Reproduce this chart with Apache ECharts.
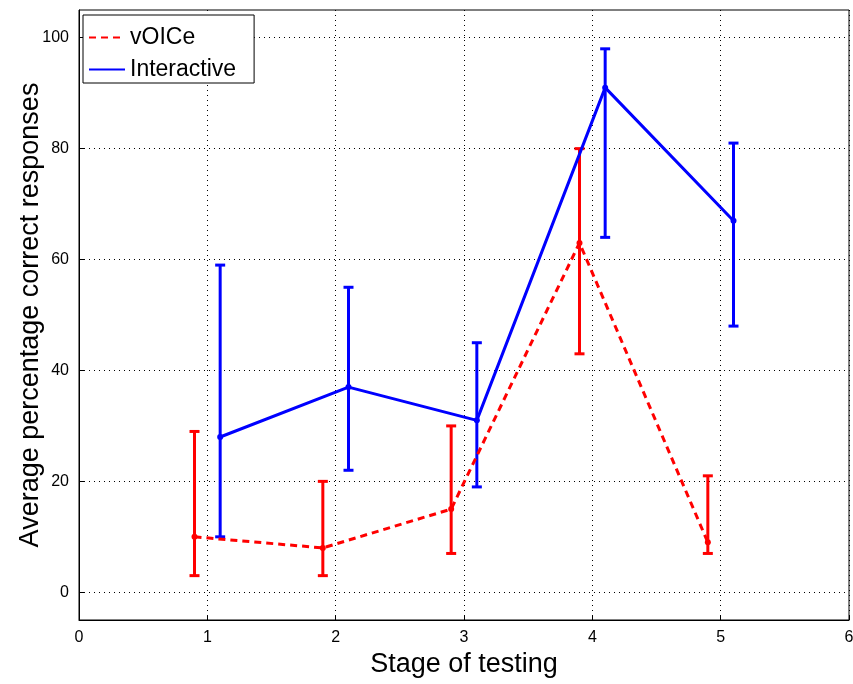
<!DOCTYPE html>
<html>
<head>
<meta charset="utf-8">
<script src="https://cdn.jsdelivr.net/npm/echarts@6/dist/echarts.min.js"></script>
<style>
  html, body { margin: 0; padding: 0; background: #fff; }
  #chart { width: 853px; height: 684px; }
</style>
</head>
<body>
<div id="chart"></div>
<script>
  // data
  var stages = [1, 2, 3, 4, 5];
  var voiceX = [0.9, 1.9, 2.9, 3.9, 4.9];
  var voiceMean = [10, 8, 15, 63, 9];
  var voiceLow = [3, 3, 7, 43, 7];
  var voiceHigh = [29, 20, 30, 80, 21];
  var interX = [1.1, 2.1, 3.1, 4.1, 5.1];
  var interMean = [28, 37, 31, 91, 67];
  var interLow = [10, 22, 19, 64, 48];
  var interHigh = [59, 55, 45, 98, 81];
  var yTicks = [0, 20, 40, 60, 80, 100];

  var RED = '#ff0000';
  var BLUE = '#0000ff';

  function pairs(xs, ys) {
    return xs.map(function (x, i) { return [x, ys[i]]; });
  }
  function triples(xs, lo, hi) {
    return xs.map(function (x, i) { return [x, lo[i], hi[i]]; });
  }

  // error bar: vertical line with caps
  function errorBar(color) {
    return function (params, api) {
      var top = api.coord([api.value(0), api.value(2)]);
      var bot = api.coord([api.value(0), api.value(1)]);
      var half = 5;
      var style = { stroke: color, lineWidth: 3 };
      return {
        type: 'group',
        children: [
          { type: 'line', shape: { x1: top[0], y1: top[1], x2: bot[0], y2: bot[1] }, style: style },
          { type: 'line', shape: { x1: top[0] - half, y1: top[1], x2: top[0] + half, y2: top[1] }, style: style },
          { type: 'line', shape: { x1: bot[0] - half, y1: bot[1], x2: bot[0] + half, y2: bot[1] }, style: style }
        ]
      };
    };
  }

  var gridLine = { show: true, lineStyle: { color: '#000', type: [1, 4], width: 1 } };

  var chart = echarts.init(document.getElementById('chart'));
  chart.setOption({
    animation: false,
    textStyle: { fontFamily: 'Liberation Sans, Arial, sans-serif', color: '#000' },
    grid: {
      left: 79, right: 4, top: 10, bottom: 64,
      outerBoundsMode: 'none',
      show: true, borderColor: '#000', borderWidth: 1
    },
    legend: {
      left: 83, top: 15,
      orient: 'vertical',
      data: ['vOICe', 'Interactive'],
      backgroundColor: '#fff',
      borderColor: '#000',
      borderWidth: 1,
      padding: [11, 18, 2, 5],
      itemGap: 9,
      itemWidth: 36,
      itemHeight: 22,
      itemStyle: { opacity: 0 },
      textStyle: { fontSize: 23, color: '#000', fontFamily: 'Liberation Sans, Arial, sans-serif' }
    },
    xAxis: {
      type: 'value',
      min: 0, max: 6, interval: 1,
      name: 'Stage of testing',
      nameLocation: 'middle',
      nameGap: 31,
      nameMoveOverlap: false,
      nameTextStyle: { fontSize: 27, color: '#000' },
      axisLine: { show: true, onZero: false, lineStyle: { color: '#000' } },
      axisTick: { show: true, inside: true, length: 5, lineStyle: { color: '#000' } },
      axisLabel: { fontSize: 16, color: '#000', margin: 10 },
      splitLine: gridLine
    },
    yAxis: {
      type: 'value',
      min: -5, max: 105,
      name: 'Average percentage correct responses',
      nameLocation: 'middle',
      nameGap: 35,
      nameMoveOverlap: false,
      nameTextStyle: { fontSize: 27, color: '#000' },
      axisLine: { show: true, onZero: false, lineStyle: { color: '#000' } },
      axisTick: { show: true, inside: true, length: 5, customValues: yTicks, lineStyle: { color: '#000' } },
      axisLabel: { fontSize: 16, color: '#000', margin: 10, customValues: yTicks },
      splitLine: gridLine
    },
    series: [
      {
        name: 'vOICe',
        type: 'line',
        data: pairs(voiceX, voiceMean),
        symbol: 'circle',
        symbolSize: 6,
        itemStyle: { color: RED },
        lineStyle: { color: RED, width: 3, type: [7, 5] },
        z: 3
      },
      {
        name: 'Interactive',
        type: 'line',
        data: pairs(interX, interMean),
        symbol: 'circle',
        symbolSize: 6,
        itemStyle: { color: BLUE },
        lineStyle: { color: BLUE, width: 3 },
        z: 3
      },
      {
        name: 'vOICe',
        type: 'custom',
        renderItem: errorBar(RED),
        data: triples(voiceX, voiceLow, voiceHigh),
        encode: { x: 0, y: [1, 2] },
        z: 2
      },
      {
        name: 'Interactive',
        type: 'custom',
        renderItem: errorBar(BLUE),
        data: triples(interX, interLow, interHigh),
        encode: { x: 0, y: [1, 2] },
        z: 2
      }
    ]
  });
</script>
</body>
</html>
